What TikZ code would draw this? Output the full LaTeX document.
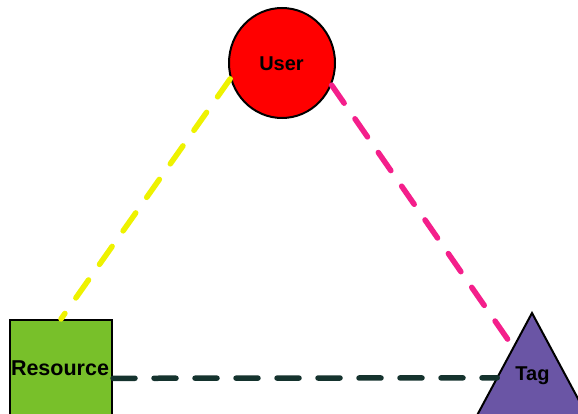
\documentclass[tikz,border=0pt]{standalone}
\usepackage{fontspec}
\setmainfont{Liberation Sans}
\usetikzlibrary{shapes.geometric,calc}

\definecolor{userred}{HTML}{FF0000}
\definecolor{resgreen}{HTML}{78C02A}
\definecolor{tagpurple}{HTML}{6A55A5}
\definecolor{linkyellow}{HTML}{EEF200}
\definecolor{linkpink}{HTML}{F41F8B}
\definecolor{linkdark}{HTML}{15332E}

\tikzset{
  shapeborder/.style={draw=black, line width=2pt},
  lbl/.style={font=\bfseries\fontsize{20}{24}\selectfont, inner sep=0pt},
  link/.style={line width=5.5pt, line cap=round, dash pattern=on 22pt off 19pt},
}

\begin{document}
\begin{tikzpicture}[x=1pt, y=-1pt]
  \path[use as bounding box, clip] (0,0) rectangle (578,414);

  % User: red ellipse
  \node[shapeborder, ellipse, fill=userred, minimum width=106pt, minimum height=110pt,
        inner sep=0pt] (user) at (282,63) {};
  \node[lbl] (usertext) at (281.5,63.7) {User};

  % Resource: green square
  \node[shapeborder, rectangle, fill=resgreen, minimum size=102pt, inner sep=0pt]
        (resource) at (61,371) {};
  \node[lbl, font=\bfseries\fontsize{21.5}{25}\selectfont] (resourcetext) at (60,368.7) {Resource};

  % Tag: purple triangle
  \coordinate (tagA) at (532,313);
  \coordinate (tagL) at (474,421);
  \coordinate (tagR) at (590,421);
  \draw[shapeborder, fill=tagpurple, line join=miter] (tagA) -- (tagL) -- (tagR) -- cycle;
  \node[lbl] (tagtext) at (532.5,376) {Tag};
  \coordinate (tagin1) at ($(tagA)!0.32!(tagL)$);
  \coordinate (tagin2) at ($(tagA)!0.6!(tagL)$);

  % Relations
  \draw[link, linkyellow] (user.197) -- (resource.north);
  \draw[link, linkpink] (user.336) -- (tagin1);
  \draw[link, linkdark] (resource.352) -- (tagin2);
\end{tikzpicture}
\end{document}
